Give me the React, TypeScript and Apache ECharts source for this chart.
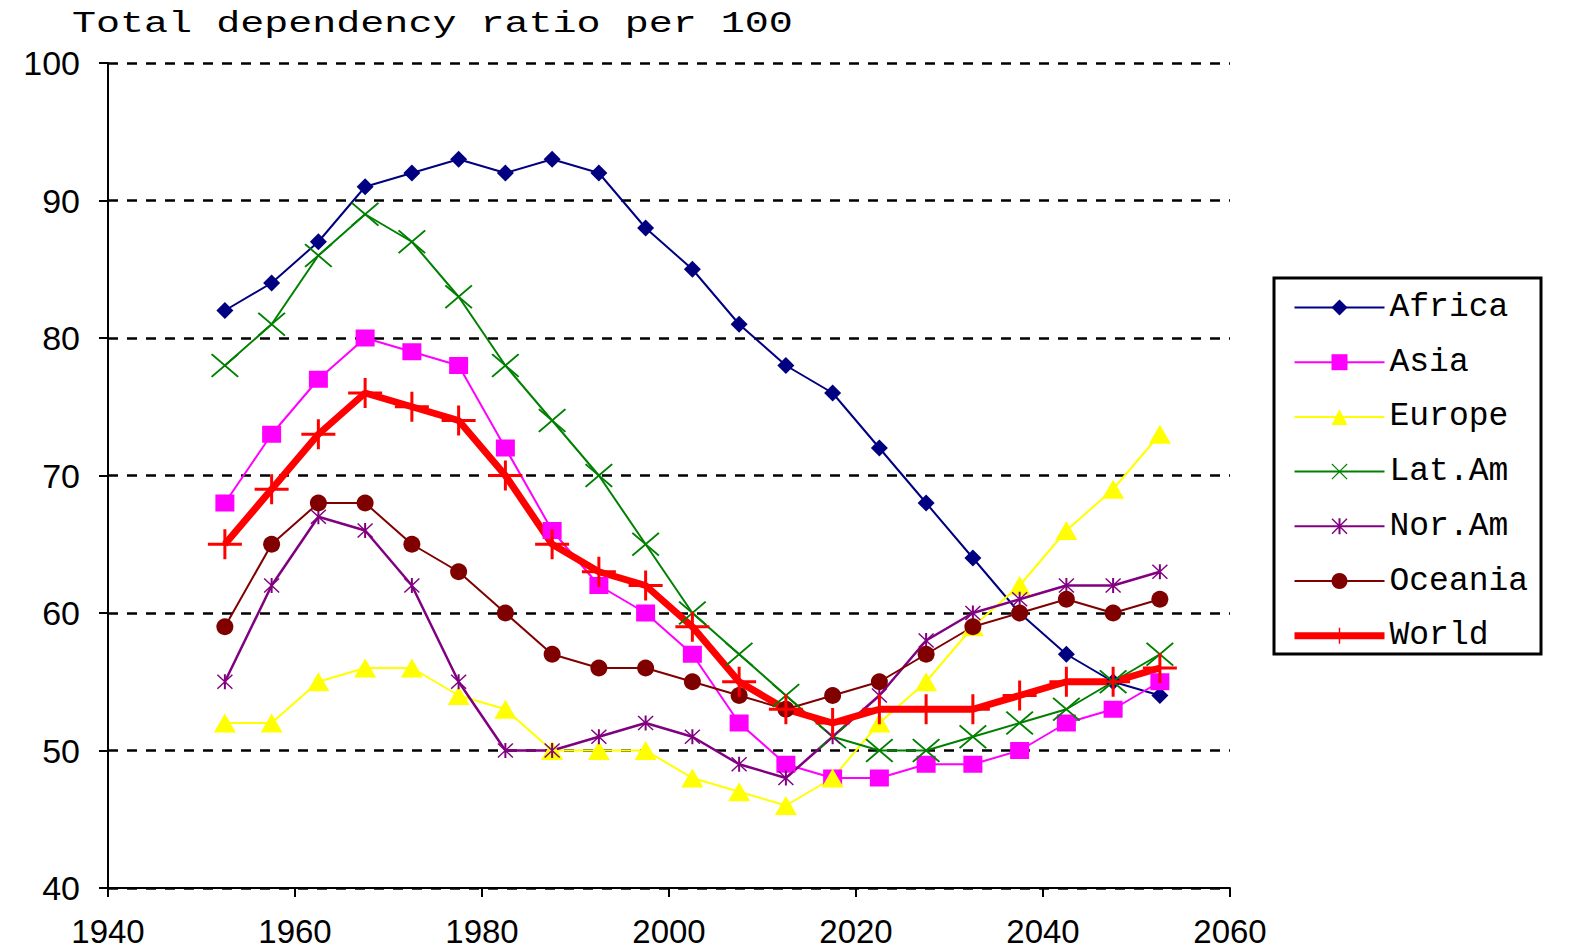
import React, { useEffect, useRef } from 'react';
import * as echarts from 'echarts';

// Mid-points of the five-year periods
const years = [
  1952.5, 1957.5, 1962.5, 1967.5, 1972.5, 1977.5, 1982.5, 1987.5, 1992.5, 1997.5,
  2002.5, 2007.5, 2012.5, 2017.5, 2022.5, 2027.5, 2032.5, 2037.5, 2042.5, 2047.5, 2052.5,
];

// Total dependency ratio (dependants per 100 persons of working age)
const africa = [82, 84, 87, 91, 92, 93, 92, 93, 92, 88, 85, 81, 78, 76, 72, 68, 64, 60, 57, 55, 54];
const asia = [68, 73, 77, 80, 79, 78, 72, 66, 62, 60, 57, 52, 49, 48, 48, 49, 49, 50, 52, 53, 55];
const europe = [52, 52, 55, 56, 56, 54, 53, 50, 50, 50, 48, 47, 46, 48, 52, 55, 59, 62, 66, 69, 73];
const latAm = [78, 81, 86, 89, 87, 83, 78, 74, 70, 65, 60, 57, 54, 51, 50, 50, 51, 52, 53, 55, 57];
const norAm = [55, 62, 67, 66, 62, 55, 50, 50, 51, 52, 51, 49, 48, 51, 54, 58, 60, 61, 62, 62, 63];
const oceania = [59, 65, 68, 68, 65, 63, 60, 57, 56, 56, 55, 54, 53, 54, 55, 57, 59, 60, 61, 60, 61];
const world = [65, 69, 73, 76, 75, 74, 70, 65, 63, 62, 59, 55, 53, 52, 53, 53, 53, 54, 55, 55, 56];

const seriesNames = ['Africa', 'Asia', 'Europe', 'Lat.Am', 'Nor.Am', 'Oceania', 'World'];
const titleText = 'Total dependency ratio per 100';

// Marker outlines
const xMark =
  'path://M0,1.5 L1.5,0 L15,13.5 L28.5,0 L30,1.5 L16.5,15 L30,28.5 L28.5,30 L15,16.5 L1.5,30 L0,28.5 L13.5,15 Z';
const starMark =
  'path://M7,0 L9,0 L9,16 L7,16 Z M0,1 L1,0 L16,15 L15,16 Z M15,0 L16,1 L1,16 L0,15 Z';
const plusMark = 'path://M0,13.5 L34,13.5 L34,16.5 L0,16.5 Z M15.5,0 L18.5,0 L18.5,30 L15.5,30 Z';

const MONO = '"Liberation Mono", "Courier New", monospace';
const SANS = '"Liberation Sans", Arial, sans-serif';

function makeSeries(
  name: string,
  values: number[],
  color: string,
  symbol: string,
  symbolSize: number | number[],
  lineWidth: number,
) {
  return {
    name,
    type: 'line',
    data: years.map((y, i) => [y, values[i]]),
    color,
    symbol,
    symbolSize,
    showSymbol: true,
    showAllSymbol: true,
    lineStyle: { color, width: lineWidth },
    itemStyle: { color, borderWidth: 0 },
    emphasis: { disabled: true },
  };
}

export default function App() {
  const ref = useRef<HTMLDivElement>(null);

  useEffect(() => {
    const chart = echarts.init(ref.current!, null, { renderer: 'svg' });
    const option = {
      animation: false,
      backgroundColor: '#ffffff',
      grid: { left: 108, right: 344, top: 63, bottom: 63 },
      xAxis: {
        type: 'value',
        min: 1940,
        max: 2060,
        interval: 20,
        axisLine: { show: true, lineStyle: { color: '#000', width: 2 } },
        axisTick: { show: true, length: 9, lineStyle: { color: '#000', width: 2 } },
        axisLabel: {
          color: '#000',
          fontFamily: SANS,
          fontSize: 33,
          lineHeight: 30,
          margin: 28,
          formatter: (v: number) => String(v),
        },
        splitLine: { show: false },
      },
      yAxis: {
        type: 'value',
        min: 40,
        max: 100,
        interval: 10,
        axisLine: { show: true, lineStyle: { color: '#000', width: 2 } },
        axisTick: { show: true, length: 9, lineStyle: { color: '#000', width: 2 } },
        axisLabel: { color: '#000', fontFamily: SANS, fontSize: 34, margin: 28 },
        splitLine: { show: true, lineStyle: { color: '#000', width: 2.5, type: [10, 9] } },
      },
      legend: {
        data: seriesNames.map((n) =>
          n === 'World' ? { name: n, lineStyle: { width: 7 } } : { name: n },
        ),
        orient: 'vertical',
        left: 1291,
        top: 291,
        padding: 0,
        itemWidth: 90,
        itemHeight: 20,
        itemGap: 21.7,
        selectedMode: false,
        textStyle: { color: '#000', fontFamily: MONO, fontSize: 33, lineHeight: 32 },
      },
      graphic: [
        {
          type: 'text',
          x: 72,
          y: 24,
          scaleX: 1.335,
          style: {
            text: titleText,
            font: `30px ${MONO}`,
            fill: '#000',
            textVerticalAlign: 'middle',
          },
        },
        {
          type: 'rect',
          z: -1,
          shape: { x: 1274, y: 278, width: 267, height: 376 },
          style: { fill: 'none', stroke: '#000', lineWidth: 3 },
        },
      ],
      series: [
        makeSeries('Africa', africa, '#000080', 'diamond', 17, 2),
        makeSeries('Asia', asia, '#ff00ff', 'rect', [19, 17], 2),
        makeSeries('Europe', europe, '#ffff00', 'triangle', [22, 19], 2),
        makeSeries('Lat.Am', latAm, '#008000', xMark, [28, 24], 2),
        makeSeries('Nor.Am', norAm, '#800080', starMark, [16, 15], 2.5),
        makeSeries('Oceania', oceania, '#800000', 'circle', 17, 2),
        makeSeries('World', world, '#ff0000', plusMark, [34, 30], 7),
      ],
    };
    chart.setOption(option as any);
    return () => chart.dispose();
  }, []);

  return (
    <div
      ref={ref}
      style={{ position: 'fixed', left: 0, top: 0, width: 1574, height: 951, background: '#fff' }}
    />
  );
}
